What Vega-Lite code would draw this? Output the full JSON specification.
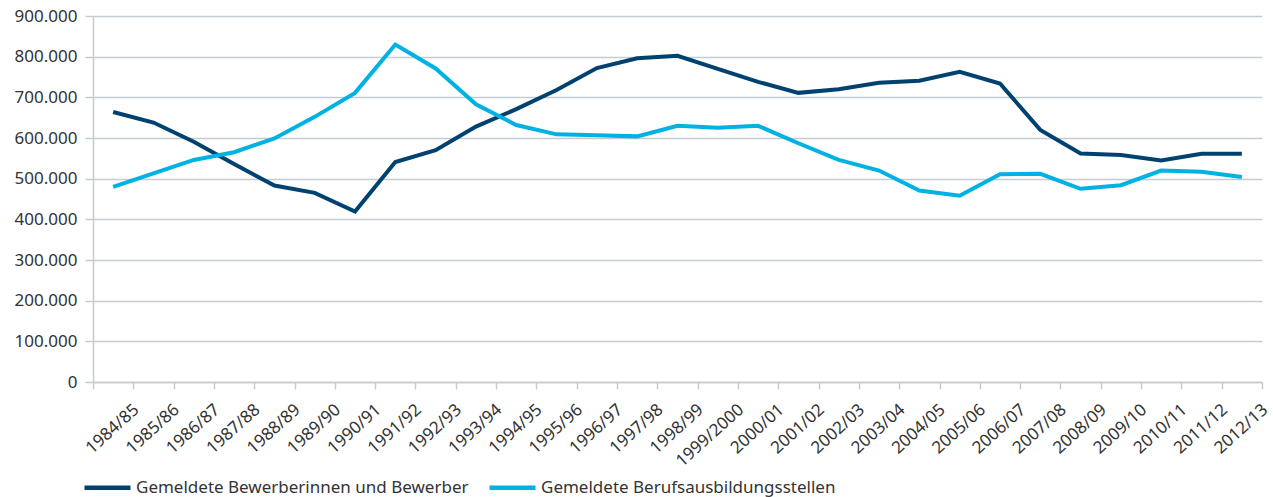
{
  "$schema": "https://vega.github.io/schema/vega-lite/v6.json",
  "width": 1169,
  "height": 366,
  "autosize": "none",
  "padding": {"left": 93, "top": 16, "right": 11, "bottom": 115},
  "background": "white",
  "config": {
    "view": {"stroke": null},
    "font": "Noto Sans",
    "locale": {"number": {"decimal": ",", "thousands": ".", "grouping": [3], "currency": ["", " €"]}}
  },
  "data": {
    "values": [
      {"jahr": "1984/85", "serie": "Gemeldete Bewerberinnen und Bewerber", "wert": 664000},
      {"jahr": "1985/86", "serie": "Gemeldete Bewerberinnen und Bewerber", "wert": 638000},
      {"jahr": "1986/87", "serie": "Gemeldete Bewerberinnen und Bewerber", "wert": 591000},
      {"jahr": "1987/88", "serie": "Gemeldete Bewerberinnen und Bewerber", "wert": 536000},
      {"jahr": "1988/89", "serie": "Gemeldete Bewerberinnen und Bewerber", "wert": 483000},
      {"jahr": "1989/90", "serie": "Gemeldete Bewerberinnen und Bewerber", "wert": 465000},
      {"jahr": "1990/91", "serie": "Gemeldete Bewerberinnen und Bewerber", "wert": 419000},
      {"jahr": "1991/92", "serie": "Gemeldete Bewerberinnen und Bewerber", "wert": 541000},
      {"jahr": "1992/93", "serie": "Gemeldete Bewerberinnen und Bewerber", "wert": 570000},
      {"jahr": "1993/94", "serie": "Gemeldete Bewerberinnen und Bewerber", "wert": 628000},
      {"jahr": "1994/95", "serie": "Gemeldete Bewerberinnen und Bewerber", "wert": 671000},
      {"jahr": "1995/96", "serie": "Gemeldete Bewerberinnen und Bewerber", "wert": 718000},
      {"jahr": "1996/97", "serie": "Gemeldete Bewerberinnen und Bewerber", "wert": 772000},
      {"jahr": "1997/98", "serie": "Gemeldete Bewerberinnen und Bewerber", "wert": 796000},
      {"jahr": "1998/99", "serie": "Gemeldete Bewerberinnen und Bewerber", "wert": 802000},
      {"jahr": "1999/2000", "serie": "Gemeldete Bewerberinnen und Bewerber", "wert": 770000},
      {"jahr": "2000/01", "serie": "Gemeldete Bewerberinnen und Bewerber", "wert": 738000},
      {"jahr": "2001/02", "serie": "Gemeldete Bewerberinnen und Bewerber", "wert": 711000},
      {"jahr": "2002/03", "serie": "Gemeldete Bewerberinnen und Bewerber", "wert": 720000},
      {"jahr": "2003/04", "serie": "Gemeldete Bewerberinnen und Bewerber", "wert": 736000},
      {"jahr": "2004/05", "serie": "Gemeldete Bewerberinnen und Bewerber", "wert": 741000},
      {"jahr": "2005/06", "serie": "Gemeldete Bewerberinnen und Bewerber", "wert": 763000},
      {"jahr": "2006/07", "serie": "Gemeldete Bewerberinnen und Bewerber", "wert": 734000},
      {"jahr": "2007/08", "serie": "Gemeldete Bewerberinnen und Bewerber", "wert": 620000},
      {"jahr": "2008/09", "serie": "Gemeldete Bewerberinnen und Bewerber", "wert": 562000},
      {"jahr": "2009/10", "serie": "Gemeldete Bewerberinnen und Bewerber", "wert": 558000},
      {"jahr": "2010/11", "serie": "Gemeldete Bewerberinnen und Bewerber", "wert": 545000},
      {"jahr": "2011/12", "serie": "Gemeldete Bewerberinnen und Bewerber", "wert": 561000},
      {"jahr": "2012/13", "serie": "Gemeldete Bewerberinnen und Bewerber", "wert": 561000},
      {"jahr": "1984/85", "serie": "Gemeldete Berufsausbildungsstellen", "wert": 480000},
      {"jahr": "1985/86", "serie": "Gemeldete Berufsausbildungsstellen", "wert": 513000},
      {"jahr": "1986/87", "serie": "Gemeldete Berufsausbildungsstellen", "wert": 546000},
      {"jahr": "1987/88", "serie": "Gemeldete Berufsausbildungsstellen", "wert": 565000},
      {"jahr": "1988/89", "serie": "Gemeldete Berufsausbildungsstellen", "wert": 599000},
      {"jahr": "1989/90", "serie": "Gemeldete Berufsausbildungsstellen", "wert": 652000},
      {"jahr": "1990/91", "serie": "Gemeldete Berufsausbildungsstellen", "wert": 711000},
      {"jahr": "1991/92", "serie": "Gemeldete Berufsausbildungsstellen", "wert": 830000},
      {"jahr": "1992/93", "serie": "Gemeldete Berufsausbildungsstellen", "wert": 771000},
      {"jahr": "1993/94", "serie": "Gemeldete Berufsausbildungsstellen", "wert": 683000},
      {"jahr": "1994/95", "serie": "Gemeldete Berufsausbildungsstellen", "wert": 632000},
      {"jahr": "1995/96", "serie": "Gemeldete Berufsausbildungsstellen", "wert": 609000},
      {"jahr": "1996/97", "serie": "Gemeldete Berufsausbildungsstellen", "wert": 607000},
      {"jahr": "1997/98", "serie": "Gemeldete Berufsausbildungsstellen", "wert": 604000},
      {"jahr": "1998/99", "serie": "Gemeldete Berufsausbildungsstellen", "wert": 630000},
      {"jahr": "1999/2000", "serie": "Gemeldete Berufsausbildungsstellen", "wert": 625000},
      {"jahr": "2000/01", "serie": "Gemeldete Berufsausbildungsstellen", "wert": 630000},
      {"jahr": "2001/02", "serie": "Gemeldete Berufsausbildungsstellen", "wert": 587000},
      {"jahr": "2002/03", "serie": "Gemeldete Berufsausbildungsstellen", "wert": 546000},
      {"jahr": "2003/04", "serie": "Gemeldete Berufsausbildungsstellen", "wert": 520000},
      {"jahr": "2004/05", "serie": "Gemeldete Berufsausbildungsstellen", "wert": 471000},
      {"jahr": "2005/06", "serie": "Gemeldete Berufsausbildungsstellen", "wert": 458000},
      {"jahr": "2006/07", "serie": "Gemeldete Berufsausbildungsstellen", "wert": 511000},
      {"jahr": "2007/08", "serie": "Gemeldete Berufsausbildungsstellen", "wert": 512000},
      {"jahr": "2008/09", "serie": "Gemeldete Berufsausbildungsstellen", "wert": 475000},
      {"jahr": "2009/10", "serie": "Gemeldete Berufsausbildungsstellen", "wert": 484000},
      {"jahr": "2010/11", "serie": "Gemeldete Berufsausbildungsstellen", "wert": 520000},
      {"jahr": "2011/12", "serie": "Gemeldete Berufsausbildungsstellen", "wert": 517000},
      {"jahr": "2012/13", "serie": "Gemeldete Berufsausbildungsstellen", "wert": 504000}
    ]
  },
  "mark": {"type": "line", "strokeWidth": 4, "strokeJoin": "miter"},
  "encoding": {
    "x": {
      "field": "jahr",
      "type": "ordinal",
      "sort": null,
      "bandPosition": 0.5,
      "scale": {"type": "band", "paddingInner": 0, "paddingOuter": 0},
      "axis": {
        "title": null,
        "tickBand": "extent",
        "grid": false,
        "domainColor": "#c4ccd2",
        "domainWidth": 1.5,
        "tickColor": "#c4ccd2",
        "tickSize": 7,
        "tickWidth": 1.5,
        "labelAngle": -42,
        "labelAlign": "right",
        "labelBaseline": "middle",
        "labelOffset": 23,
        "labelPadding": 18,
        "labelFontSize": 17,
        "labelColor": "#333333",
        "labelOverlap": false,
        "labelBound": false
      }
    },
    "y": {
      "field": "wert",
      "type": "quantitative",
      "scale": {"domain": [0, 900000], "nice": false},
      "axis": {
        "title": null,
        "format": ",d",
        "values": [0, 100000, 200000, 300000, 400000, 500000, 600000, 700000, 800000, 900000],
        "grid": true,
        "gridColor": "#c4ccd2",
        "gridWidth": 1.5,
        "domainColor": "#c4ccd2",
        "domainWidth": 1.5,
        "tickColor": "#c4ccd2",
        "tickSize": 8,
        "tickWidth": 1.5,
        "labelPadding": 8,
        "labelFontSize": 17,
        "labelColor": "#333333",
        "labelOverlap": false
      }
    },
    "color": {
      "field": "serie",
      "type": "nominal",
      "sort": null,
      "scale": {
        "domain": ["Gemeldete Bewerberinnen und Bewerber", "Gemeldete Berufsausbildungsstellen"],
        "range": ["#00426f", "#00b2e2"]
      },
      "legend": {
        "title": null,
        "orient": "none",
        "direction": "horizontal",
        "legendX": -11,
        "legendY": 446,
        "symbolType": "stroke",
        "symbolSize": 2116,
        "symbolStrokeWidth": 4.5,
        "labelFontSize": 17,
        "labelColor": "#333333",
        "labelOffset": 3,
        "columnPadding": 11,
        "labelLimit": 500
      }
    }
  }
}
